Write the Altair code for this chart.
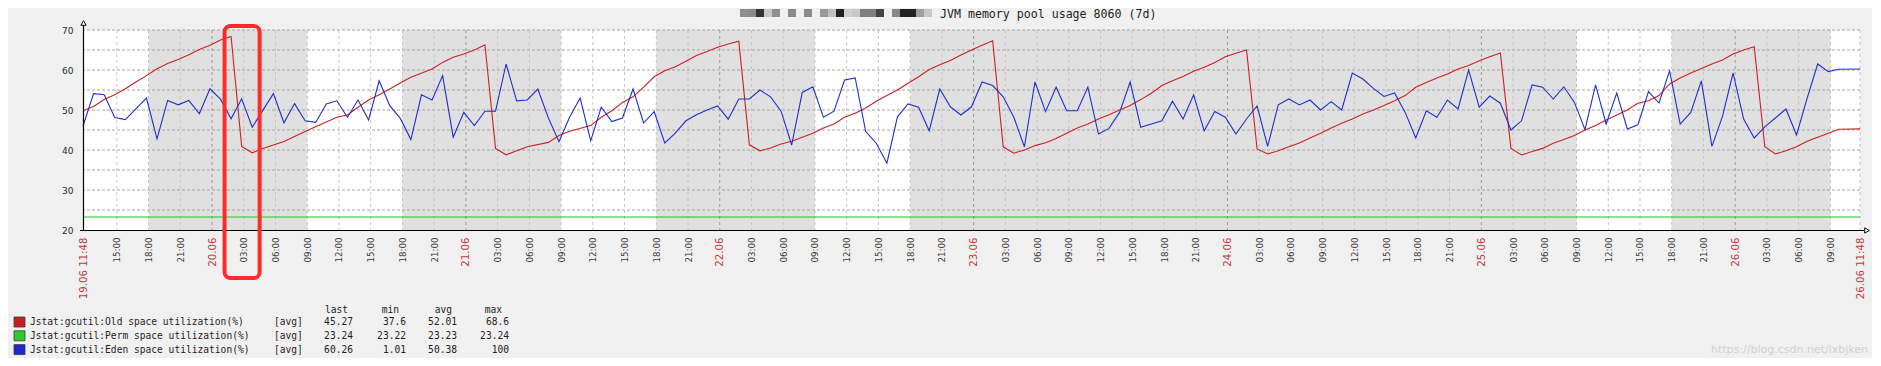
import altair as alt
import pandas as pd
from datetime import datetime, timedelta

# ---------------- data ----------------
START = datetime(2018, 6, 19, 11, 48)
END = START + timedelta(hours=168)

# Eden space utilization (%), hourly samples (hours from start)
eden_hours = list(range(167)) + [168]
eden_values = [
    46.0, 54.1, 53.8, 48.1, 47.6, 50.3, 53.0, 42.8, 52.4, 51.3,
    52.4, 49.1, 55.3, 52.7, 47.8, 52.8, 45.7, 49.9, 54.1, 46.8,
    51.6, 47.3, 46.9, 51.5, 52.3, 48.2, 52.5, 47.5, 57.3, 51.1,
    47.9, 42.6, 53.8, 52.5, 58.6, 43.2, 49.4, 46.1, 49.7, 49.7,
    61.5, 52.3, 52.5, 55.25, 48.0, 42.1, 48.2, 53.0, 42.3, 50.7,
    47.1, 48.0, 55.25, 46.75, 49.6, 41.75, 44.2, 47.3, 48.8, 50.0,
    51.0, 47.7, 52.75, 52.75, 55.0, 53.3, 49.7, 41.25, 54.4, 55.8,
    48.2, 49.7, 57.5, 58.0, 44.6, 41.7, 36.7, 48.3, 51.5, 50.7,
    44.8, 55.25, 50.8, 48.75, 50.8, 57.0, 56.1, 53.3, 48.2, 40.8,
    57.0, 49.6, 55.7, 49.8, 49.8, 55.7, 44.0, 45.4, 49.4, 57.0,
    45.7, 46.5, 47.3, 52.2, 47.75, 53.8, 44.8, 49.6, 48.2, 44.0,
    47.75, 51.0, 40.9, 51.3, 52.75, 51.25, 52.5, 50.0, 52.1, 50.0,
    59.25, 57.75, 55.4, 53.4, 54.25, 49.4, 43.0, 49.8, 48.2, 52.5,
    50.25, 60.0, 50.7, 53.5, 51.7, 45.0, 47.3, 56.25, 55.7, 52.75,
    55.8, 51.9, 45.1, 56.3, 46.5, 54.25, 45.25, 46.3, 54.6, 51.75,
    59.8, 46.5, 49.4, 57.3, 40.9, 48.4, 59.25, 47.75, 43.0, 45.8,
    48.0, 50.25, 43.75, 52.9, 61.5, 59.6, 60.2, 60.26,
]

# Old space utilization (%), vertices of the saw-tooth (hours from start)
old_hours = [
    0, 1, 2, 3, 4, 5, 6, 7, 8, 9, 10, 11, 12, 13, 14, 15, 16, 17, 19, 21,
    22, 24, 25, 26, 27, 28, 29, 30, 31, 33, 34, 35, 36, 37, 38, 39, 40, 42,
    44, 45, 46, 48, 49, 50, 51, 52, 53, 54, 55, 56, 57, 58, 59, 60, 61, 62,
    63, 64, 65, 66, 67, 68, 69, 70, 71, 72, 73, 74, 75, 76, 77, 78, 79, 80,
    81, 82, 83, 84, 85, 86, 87, 88, 89, 90, 91, 92, 93, 94, 95, 96, 97, 98,
    99, 100, 101, 102, 103, 104, 105, 106, 107, 108, 109, 110, 111, 112,
    113, 114, 115, 116, 117, 118, 119, 120, 121, 122, 123, 124, 125, 126,
    127, 128, 129, 130, 131, 132, 133, 134, 135, 136, 137, 138, 139, 140,
    141, 142, 143, 144, 145, 146, 147, 148, 149, 150, 151, 152, 153, 154,
    155, 156, 157, 158, 159, 160, 161, 162, 163, 164, 165, 166, 168,
]
old_values = [
    49.8, 50.9, 52.6, 53.8, 55.3, 57.0, 58.6, 60.3, 61.6, 62.6, 63.8, 65.1,
    66.2, 67.5, 68.4, 40.9, 39.3, 40.4, 42.1, 44.6,
    45.8, 48.2, 48.75, 50.7, 52.5, 53.8, 55.25, 56.75, 58.2, 60.25, 61.9,
    63.2, 64.0, 65.0, 66.3, 40.4, 38.8, 40.8,
    41.9, 43.6, 44.7, 46.1, 48.2, 49.8, 51.9, 53.3, 55.7, 58.3, 59.8, 60.8,
    62.2, 63.6, 64.6, 65.7, 66.5, 67.2,
    41.3, 39.8, 40.5, 41.5, 42.2, 43.2, 44.2, 45.5, 46.5, 48.2, 49.2, 50.5,
    52.2, 53.6, 55.0, 56.7, 58.3, 60.1,
    61.3, 62.4, 63.75, 65.0, 66.2, 67.3, 40.8, 39.2, 40.0, 41.1, 41.8, 42.9,
    44.2, 45.5, 46.5, 47.75, 48.8, 50.0,
    51.1, 52.6, 54.2, 56.1, 57.3, 58.4, 59.7, 60.7, 61.9, 63.3, 64.2, 65.0,
    40.25, 39.0,
    39.8, 40.8, 41.75, 43.0, 44.2, 45.5, 46.7, 47.75, 49.0, 50.0, 51.1, 52.3,
    53.6, 55.7,
    56.9, 58.0, 59.0, 60.25, 61.1, 62.3, 63.3, 64.25, 40.4, 38.75, 39.6, 40.4,
    41.7, 42.6,
    43.6, 45.0, 46.1, 47.5, 48.75, 50.0, 51.7, 52.3, 53.6, 56.5, 58.0, 59.25,
    60.4, 61.5,
    62.5, 64.0, 65.0, 65.8, 40.8, 39.0, 39.8, 40.8, 42.2, 43.2, 44.2, 45.2, 45.27,
]

# Perm space utilization (%)
perm_hours = [0, 168]
perm_values = [23.24, 23.24]

# non-working periods: 18:00 of start day -> 09:00 of end day
offwork_start_days = [19, 20, 21, 22, 25]
offwork_end_days = [20, 21, 22, 25, 26]

# highlighted period (red frame)
frame_start = datetime(2018, 6, 20, 1, 11)
frame_end = datetime(2018, 6, 20, 4, 30)

title_text = "JVM memory pool usage 8060 (7d)"
masked_shades = ["#8f8f8f", "#8a8a8a", "#333333", "#c8c8c8", "#909090", None,
                 "#8c8c8c", None, "#8c8c8c", None, "#999999", "#c0c0c0",
                 "#222222", "#d0d0d0", "#c8c8c8", "#808080", "#808080",
                 "#444444", None, "#888888", "#222222", "#222222", "#a0a0a0",
                 "#c8c8c8"]
watermark_text = "https://blog.csdn.net/lxbjken"

legend_names = ["Jstat:gcutil:Old space utilization(%)",
                "Jstat:gcutil:Perm space utilization(%)",
                "Jstat:gcutil:Eden space utilization(%)"]
legend_colors = ["#c81e1e", "#2ccc2c", "#1e28c8"]
line_colors = ["#cc2020", "#18c818", "#2030cc"]
stat_headers = ["last", "min", "avg", "max"]
stat_last = ["45.27", "23.24", "60.26"]
stat_min = ["37.6", "23.22", "1.01"]
stat_avg = ["52.01", "23.23", "50.38"]
stat_max = ["68.6", "23.24", "100"]

y_label_values = [20, 30, 40, 50, 60, 70]
y_grid_values = [25, 30, 35, 40, 45, 50, 55, 60, 65, 70]

# ---------------- helpers ----------------
W, H = 1777, 200
MONO = "DejaVu Sans Mono"
SANS = "DejaVu Sans"


def dt(d):
    return alt.DateTime(year=d.year, month=d.month, date=d.day,
                        hours=d.hour, minutes=d.minute)


tick_times = [START]
t = datetime(2018, 6, 19, 15, 0)
while t < END:
    tick_times.append(t)
    t += timedelta(hours=3)
tick_times.append(END)

is_special = "minutes(datum.value) != 0 || hours(datum.value) == 0"
xscale = alt.Scale(domain=[dt(START), dt(END)])
xaxis = alt.Axis(
    values=[dt(v) for v in tick_times],
    labelExpr=("minutes(datum.value) != 0 ? timeFormat(datum.value, '%d.%m %H:%M') : "
               "(hours(datum.value) == 0 ? timeFormat(datum.value, '%d.%m') : "
               "timeFormat(datum.value, '%H:%M'))"),
    labelAngle=270, labelPadding=7, labelOverlap=False, labelFlush=False,
    labelBound=False, domain=False, ticks=False, grid=False, title=None,
    labelFont=SANS,
    labelColor={"condition": {"test": is_special, "value": "#c03a3a"}, "value": "#3a3a3a"},
    labelFontSize={"condition": {"test": is_special, "value": 10.2}, "value": 8.7},
)
yscale = alt.Scale(domain=[20, 70], nice=False, zero=False)
yaxis = alt.Axis(values=y_label_values, labelPadding=10, domain=False, ticks=False,
                 grid=False, title=None, labelFont=SANS, labelFontSize=9,
                 labelColor="#2a2a2a")


def X(field):
    return alt.X(f"{field}:T", scale=xscale, axis=xaxis)


def Y(field):
    return alt.Y(f"{field}:Q", scale=yscale, axis=yaxis)


def hours_to_time(hours):
    return [START + timedelta(hours=h) for h in hours]


eden_df = pd.DataFrame({"t": hours_to_time(eden_hours), "v": eden_values})
old_df = pd.DataFrame({"t": hours_to_time(old_hours), "v": old_values})
perm_df = pd.DataFrame({"t": hours_to_time(perm_hours), "v": perm_values})
bands_df = pd.DataFrame({
    "t0": [datetime(2018, 6, d, 18, 0) for d in offwork_start_days],
    "t1": [datetime(2018, 6, d, 9, 0) for d in offwork_end_days],
})
vgrid_df = pd.DataFrame({"t": tick_times[1:]})
vgrid_df["day"] = [(v.hour == 0 and v.minute == 0) for v in tick_times[1:]]
hgrid_df = pd.DataFrame({"v": y_grid_values})
frame_df = pd.DataFrame({"t0": [frame_start], "t1": [frame_end]})
one = pd.DataFrame({"a": [0]})

layers = []
layers.append(alt.Chart(bands_df).mark_rect(color="#e0e0e0").encode(x=X("t0"), x2="t1"))
layers.append(alt.Chart(hgrid_df).mark_rule(color="#a6a6a6", strokeDash=[3, 2], strokeWidth=1)
              .encode(y=Y("v")))
layers.append(alt.Chart(vgrid_df).transform_filter("!datum.day")
              .mark_rule(color="#c4c4c4", strokeDash=[3, 3], strokeWidth=1).encode(x=X("t")))
layers.append(alt.Chart(vgrid_df).transform_filter("datum.day")
              .mark_rule(color="#9a9a9a", strokeDash=[3, 3], strokeWidth=1).encode(x=X("t")))
for df, col in [(old_df, line_colors[0]), (perm_df, line_colors[1]), (eden_df, line_colors[2])]:
    layers.append(alt.Chart(df).mark_line(color=col, strokeWidth=1.1).encode(x=X("t"), y=Y("v")))

# axis lines and arrows
layers.append(alt.Chart(one).mark_rule(color="black", strokeWidth=1.2)
              .encode(x=alt.value(0.5), y=alt.value(-5), y2=alt.value(H)))
layers.append(alt.Chart(one).mark_rule(color="black", strokeWidth=1.2)
              .encode(x=alt.value(-3), x2=alt.value(W + 4), y=alt.value(H + 0.5)))
layers.append(alt.Chart(one).mark_point(shape="triangle-up", size=28, filled=True,
                                        fill="white", stroke="black", strokeWidth=1, opacity=1)
              .encode(x=alt.value(0.5), y=alt.value(-7)))
layers.append(alt.Chart(one).mark_point(shape="triangle-right", size=28, filled=True,
                                        fill="white", stroke="black", strokeWidth=1, opacity=1)
              .encode(x=alt.value(W + 7), y=alt.value(H + 0.5)))

# red highlight frame
layers.append(alt.Chart(frame_df).mark_rect(fillOpacity=0, stroke="#ff2a2a", strokeWidth=4,
                                            cornerRadius=6)
              .encode(x=X("t0"), x2="t1", y=alt.value(-4), y2=alt.value(248)))

# title with masked prefix
mask_df = pd.DataFrame({"i": list(range(len(masked_shades))), "shade": masked_shades}).dropna()
layers.append(alt.Chart(mask_df).transform_calculate(x0="657 + 8 * datum.i", x1="665 + 8 * datum.i")
              .mark_rect().encode(x=alt.X("x0:Q", scale=None, axis=None), x2="x1:Q",
                                  y=alt.value(-21), y2=alt.value(-13),
                                  color=alt.Color("shade:N", scale=None, legend=None)))
layers.append(alt.Chart(pd.DataFrame({"txt": [title_text]})).mark_text(
    align="left", baseline="middle", font=MONO, fontSize=11.6, color="#1e1e1e")
    .encode(x=alt.value(857), y=alt.value(-15.5), text="txt:N"))

# watermark
layers.append(alt.Chart(pd.DataFrame({"txt": [watermark_text]})).mark_text(
    align="right", baseline="middle", font=SANS, fontSize=11, color="#d2d2d2")
    .encode(x=alt.value(W + 8), y=alt.value(320), text="txt:N"))

# legend table
leg_df = pd.DataFrame({"i": [0, 1, 2], "name": legend_names, "color": legend_colors,
                       "last": stat_last, "min": stat_min, "avg": stat_avg, "max": stat_max})
leg = alt.Chart(leg_df).transform_calculate(py="292 + 13.8 * datum.i",
                                            sq0="287 + 13.8 * datum.i",
                                            sq1="297 + 13.8 * datum.i")
ypix = alt.Y("py:Q", scale=None, axis=None)
layers.append(leg.mark_rect(stroke="#3a3a3a", strokeWidth=0.8).encode(
    x=alt.value(-69), x2=alt.value(-58), y=alt.Y("sq0:Q", scale=None, axis=None), y2="sq1:Q",
    color=alt.Color("color:N", scale=None, legend=None)))
txt = dict(baseline="middle", font=MONO, fontSize=9.6, color="#1e1e1e")
layers.append(leg.mark_text(align="left", **txt).encode(x=alt.value(-53), y=ypix, text="name:N"))
layers.append(leg.mark_text(align="left", **txt).encode(x=alt.value(191), y=ypix,
                                                       text=alt.value("[avg]")))
value_right = [270, 323, 374, 426]
header_right = [265, 316, 369, 419]
for col, vx, hx in zip(stat_headers, value_right, header_right):
    layers.append(leg.mark_text(align="right", **txt).encode(x=alt.value(vx), y=ypix,
                                                            text=f"{col}:N"))
    layers.append(alt.Chart(pd.DataFrame({"h": [col]})).mark_text(align="right", **txt)
                  .encode(x=alt.value(hx), y=alt.value(279.5), text="h:N"))

chart = alt.layer(*layers).properties(
    width=W, height=H, background="#f0f0f0",
    padding={"left": 75, "top": 22, "right": 12, "bottom": 128},
    autosize=alt.AutoSizeParams(type="none"),
).configure_view(fill="white", strokeWidth=0)

chart.save("out.html", embed_options={"renderer": "svg", "actions": False})
